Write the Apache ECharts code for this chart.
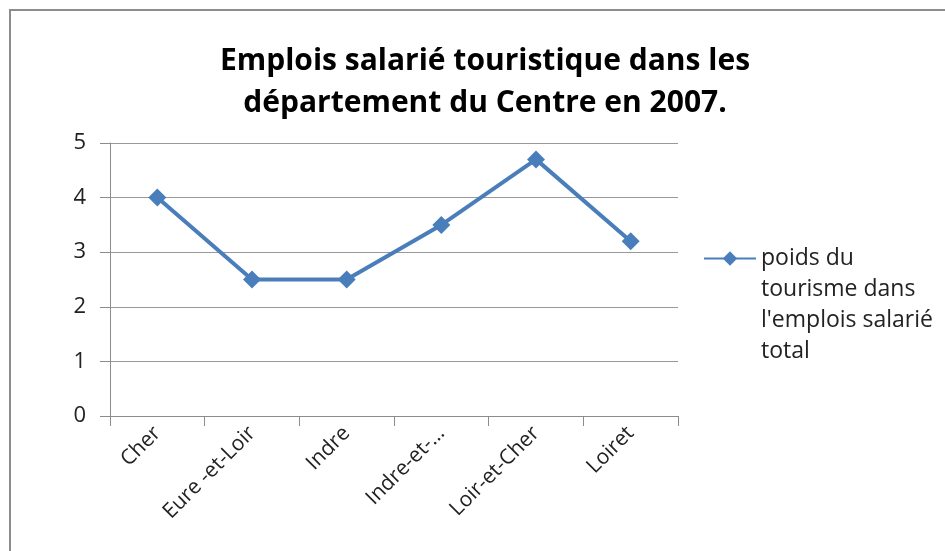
<!DOCTYPE html>
<html>
<head>
<meta charset="utf-8">
<script src="https://cdn.jsdelivr.net/npm/echarts@6/dist/echarts.min.js"></script>
<style>
  html, body { margin: 0; padding: 0; background: #fff; }
  #chart { width: 945px; height: 551px; }
</style>
</head>
<body>
<div id="chart"></div>
<script>
var departements = ['Cher', 'Eure -et-Loir', 'Indre', 'Indre-et-…', 'Loir-et-Cher', 'Loiret'];
var poids = [4, 2.5, 2.5, 3.5, 4.7, 3.2];
var yTicks = { min: 0, max: 5, interval: 1 };
var serieNom = 'poids du\ntourisme dans\nl\'emplois salarié\ntotal';

var myChart = echarts.init(document.getElementById('chart'));
var option = {
    backgroundColor: '#fff',
    textStyle: { fontFamily: 'Open Sans' },
    title: {
        text: 'Emplois salarié touristique dans les\ndépartement du Centre en 2007.',
        left: 480,
        top: 35,
        textAlign: 'center',
        textStyle: { fontSize: 30, fontWeight: 'bold', lineHeight: 42, color: '#000', fontFamily: 'Open Sans' }
    },
    graphic: [{
        type: 'rect',
        shape: { x: 10, y: 10, width: 1000, height: 600 },
        style: { fill: 'none', stroke: '#8c8c8c', lineWidth: 2 },
        silent: true
    }],
    legend: {
        left: 698,
        top: 145,
        itemWidth: 52,
        itemHeight: 18,
        itemGap: 0,
        // blank lines in front so the first line sits level with the icon
        formatter: function (name) { return '\n\n\n' + name; },
        textStyle: { fontSize: 23, color: '#222', lineHeight: 31 },
        data: [serieNom]
    },
    grid: { left: 110, right: 267, top: 143, bottom: 135 },
    xAxis: {
        type: 'category',
        data: departements,
        boundaryGap: true,
        axisLine: { lineStyle: { color: '#8c8c8c', width: 1 } },
        axisTick: { show: true, length: 10, interval: 0, lineStyle: { color: '#8c8c8c' } },
        axisLabel: { rotate: 45, interval: 0, fontSize: 21, color: '#222', margin: 14 }
    },
    yAxis: {
        type: 'value',
        min: yTicks.min,
        max: yTicks.max,
        interval: yTicks.interval,
        axisLine: { show: true, lineStyle: { color: '#8c8c8c', width: 1 } },
        axisTick: { show: true, length: 10, lineStyle: { color: '#8c8c8c' } },
        axisLabel: { fontSize: 22, color: '#222', margin: 24 },
        splitLine: { lineStyle: { color: '#999', width: 1 } }
    },
    series: [{
        name: serieNom,
        type: 'line',
        data: poids,
        symbol: 'diamond',
        symbolSize: 18,
        lineStyle: { color: '#4a7ebb', width: 4 },
        itemStyle: { color: '#4a7ebb' }
    }]
};
myChart.setOption(option);
</script>
</body>
</html>
